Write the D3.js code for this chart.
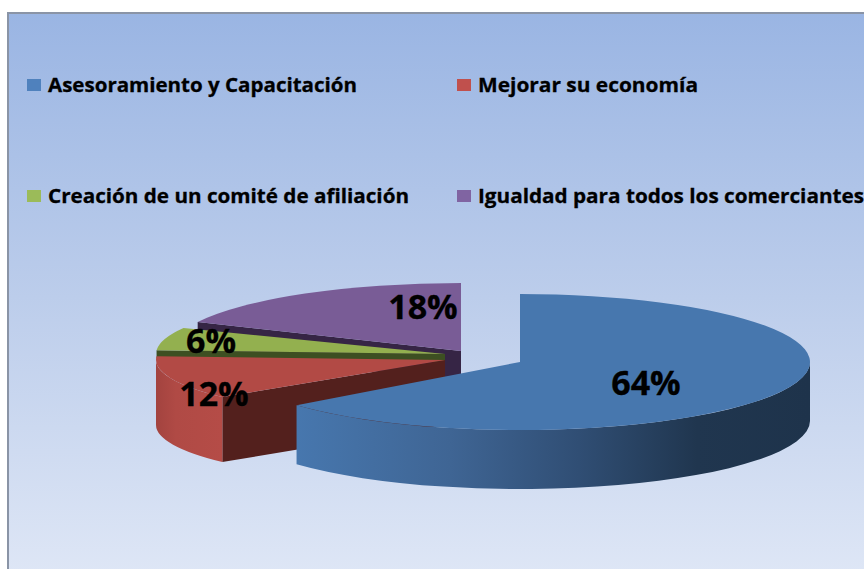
<!DOCTYPE html>
<html><head><meta charset="utf-8">
<script src="https://cdn.jsdelivr.net/npm/d3@7"></script>
<style>html,body{margin:0;padding:0;background:#fff}svg{display:block}text{font-family:"Open Sans",sans-serif;font-weight:700;fill:#000;stroke:#000;stroke-width:.3px}</style>
</head><body><div id="c"></div>
<script>
const categories=["Asesoramiento y Capacitación","Mejorar su economía","Creación de un comité de afiliación","Igualdad para todos los comerciantes"];
const values=[64,12,6,18];
const labels=["64%","12%","6%","18%"];
const legendColors=["#4f81bd","#c0504d","#9bbb59","#8064a2"];
const topColors=["#4777ae","#b24a45","#93b04f","#795c96"];
const cutColors=["#1f3550","#53201d","#3d4f22","#362545"];
// per-slice drawing geometry (exploded pie, oblique view)
const geom=[{cx:520,cy:362,rx:290,ry:68,d:59},{cx:445,cy:360,rx:289,ry:58,d:65},{cx:445,cy:354,rx:289,ry:61,d:8},{cx:461,cy:351,rx:291,ry:68,d:30}];
const labelPos=[[646,383],[214,394],[211,341],[423,307]];
const legendPos=[[27,48,85,309],[457,478,85,220],[27,48,196,361],[457,478,196,386]];
const W=864,H=569;
const svg=d3.select("#c").append("svg").attr("width",W).attr("height",H);
const defs=svg.append("defs");
const bg=defs.append("linearGradient").attr("id","bg").attr("x1",0).attr("y1",0).attr("x2",0).attr("y2",1);
[[0,"#9ab5e3"],[.5,"#bccdeb"],[1,"#dfe7f6"]].forEach(s=>bg.append("stop").attr("offset",s[0]).attr("stop-color",s[1]));
const bs=defs.append("linearGradient").attr("id","side0").attr("gradientUnits","userSpaceOnUse").attr("x1",296).attr("x2",810).attr("y1",0).attr("y2",0);
[[0,"#4777ae"],[.3,"#3f6594"],[.55,"#304e74"],[.78,"#20364f"],[1,"#1e334b"]].forEach(s=>bs.append("stop").attr("offset",s[0]).attr("stop-color",s[1]));
const rs=defs.append("linearGradient").attr("id","side1").attr("gradientUnits","userSpaceOnUse").attr("x1",156).attr("x2",222).attr("y1",0).attr("y2",0);
[[0,"#a3433f"],[.3,"#b04a45"],[1,"#b54c47"]].forEach(s=>rs.append("stop").attr("offset",s[0]).attr("stop-color",s[1]));
svg.append("rect").attr("x",8).attr("y",13).attr("width",W).attr("height",H).attr("fill","url(#bg)").attr("stroke","#8a94a6").attr("stroke-width",2);

const arcs=d3.pie().sort(null).value(v=>v).startAngle(0).endAngle(2*Math.PI)(values);
const pt=(g,a,dy=0)=>[g.cx+g.rx*Math.sin(a),g.cy-g.ry*Math.cos(a)+dy];
const ell=(g,a0,a1,dy=0)=>{const p=pt(g,a1,dy);return `A${g.rx},${g.ry} 0 ${Math.abs(a1-a0)>Math.PI?1:0} ${a1>a0?1:0} ${p[0]},${p[1]}`;};
const order=[3,2,1,0];
order.forEach(i=>{
  const a=arcs[i],g=geom[i],a0=a.startAngle,a1=a.endAngle,grp=svg.append("g");
  if(i!==0){const p=pt(g,a0);
    grp.append("path").attr("fill",cutColors[i]).attr("d",`M${g.cx},${g.cy}L${p[0]},${p[1]}L${p[0]},${p[1]+g.d}L${g.cx},${g.cy+g.d}Z`);}
  const s0=Math.max(a0,Math.PI/2),s1=Math.min(a1,1.5*Math.PI);
  if(s1>s0){const p=pt(g,s0),q=pt(g,s1,g.d);
    grp.append("path").attr("fill",i===0?"url(#side0)":"url(#side1)").attr("d",`M${p[0]},${p[1]}${ell(g,s0,s1)}L${q[0]},${q[1]}${ell(g,s1,s0,g.d)}Z`);}
  const p=pt(g,a0);
  grp.append("path").attr("fill",topColors[i]).attr("d",`M${g.cx},${g.cy}L${p[0]},${p[1]}${ell(g,a0,a1)}Z`);
});
svg.append("g").selectAll("text").data(labels).join("text").attr("x",(d,i)=>labelPos[i][0]).attr("y",(d,i)=>labelPos[i][1]).attr("dy","0.36em").attr("text-anchor","middle").attr("font-size",34).text(d=>d);
const lg=svg.append("g").selectAll("g").data(categories).join("g");
lg.append("rect").attr("x",(d,i)=>legendPos[i][0]).attr("y",(d,i)=>legendPos[i][2]-6).attr("width",14).attr("height",12).attr("fill",(d,i)=>legendColors[i]);
lg.append("text").attr("x",(d,i)=>legendPos[i][1]).attr("y",(d,i)=>legendPos[i][2]).attr("dy","0.36em").attr("font-size",20).attr("textLength",(d,i)=>legendPos[i][3]).attr("lengthAdjust","spacingAndGlyphs").text(d=>d);
</script></body></html>
